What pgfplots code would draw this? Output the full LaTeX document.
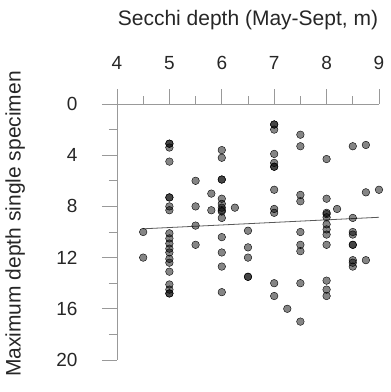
\documentclass[border=0pt]{standalone}
\usepackage{pgfplots}
\pgfplotsset{compat=1.18}
\usepackage{fontspec}
\setmainfont{Liberation Sans}
\begin{document}
\begin{tikzpicture}
\path[use as bounding box] (-117pt,-32pt) rectangle (274pt,360pt);
\begin{axis}[
  at={(0,0)}, anchor=south west,
  scale only axis, width=262pt, height=256pt,
  xmin=4, xmax=9, ymin=0, ymax=20, y dir=reverse,
  axis x line*=top, axis y line*=left,
  axis line style={-, draw=black!40, line width=0.8pt},
  tick style={draw=black!40, line width=0.8pt},
  tick align=outside,
  major tick length=15pt, minor tick length=8pt,
  xtick={4,5,6,7,8,9}, minor x tick num=1,
  ytick={0,4,8,12,16,20}, minor y tick num=1,
  /pgf/number format/assume math mode=true,
  ticklabel style={font=\fontsize{19}{22}\selectfont, text=black!85},
  xticklabel style={yshift=16pt},
  yticklabel style={xshift=-21pt},
  xlabel={Secchi depth (May-Sept, m)},
  ylabel={Maximum depth single specimen},
  label style={font=\fontsize{21}{24}\selectfont, text=black!85},
  xlabel style={at={(axis description cs:0.5,1)}, anchor=center, yshift=84pt},
  ylabel style={at={(axis description cs:-0.389,0.531)}, anchor=center, rotate=0},
  clip=false,
]
\addplot[only marks, mark=*, mark size=3.8pt, mark options={draw=none, fill=black, fill opacity=0.48}] coordinates {
(4.5,10.0) (4.5,12.0)
(5,3.1) (5,3.1) (5,3.4) (5,4.5) (5,7.3) (5,7.3) (5,8.0) (5,8.3) (5,10.1) (5,10.5) (5,10.9) (5,11.3) (5,11.6) (5,12.1) (5,12.4) (5,13.1) (5,14.1) (5,14.5) (5,14.8) (5,14.8)
(5.5,6.0) (5.5,8.0) (5.5,9.5) (5.5,11.0)
(5.8,7.0) (5.8,8.3)
(6,3.6) (6,4.2) (6,5.9) (6,5.9) (6,7.4) (6,7.8) (6,8.1) (6,8.3) (6,8.4) (6,8.9) (6,10.4) (6,11.6) (6,12.7) (6,14.7)
(6.25,8.1)
(6.5,9.9) (6.5,11.2) (6.5,12.0) (6.5,13.5) (6.5,13.5)
(7,1.6) (7,1.6) (7,2.0) (7,3.9) (7,4.6) (7,4.9) (7,4.9) (7,6.7) (7,8.2) (7,8.5) (7,14.0) (7,15.0)
(7.25,16.0)
(7.5,2.4) (7.5,3.3) (7.5,7.1) (7.5,7.6) (7.5,10.0) (7.5,11.0) (7.5,11.5) (7.5,14.0) (7.5,17.0)
(8,4.3) (8,7.4) (8,8.5) (8,8.6) (8,8.85) (8,9.4) (8,9.8) (8,10.2) (8,11.0) (8,13.8) (8,14.5) (8,15.0)
(8.2,8.2)
(8.5,3.3) (8.5,8.9) (8.5,10.0) (8.5,10.2) (8.5,11.0) (8.5,11.0) (8.5,12.2) (8.5,12.4) (8.5,12.7)
(8.75,3.2) (8.75,6.9) (8.75,12.2)
(9,6.7)
};
\addplot[draw=black!65, line width=0.8pt] coordinates {(4.5,9.75) (9.0,8.85)};
\end{axis}
\end{tikzpicture}
\end{document}
